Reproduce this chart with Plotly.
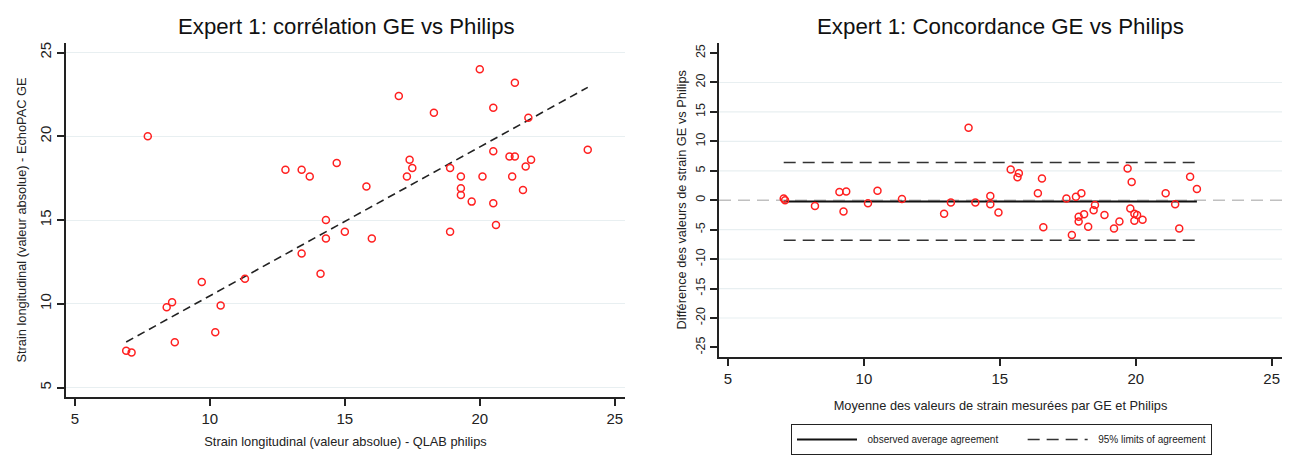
import numpy as np
import plotly.graph_objects as go

# ---- data ----
philips = [6.9, 7.1, 7.7, 8.4, 8.6, 8.7, 9.7, 10.2, 10.4, 11.3,
           12.8, 13.4, 13.4, 13.7, 14.1, 14.3, 14.3, 14.7, 15.0, 15.8,
           16.0, 17.0, 17.3, 17.4, 17.5, 18.3, 18.9, 18.9, 19.3, 19.3,
           19.3, 19.7, 20.0, 20.1, 20.5, 20.5, 20.5, 20.6, 21.1, 21.3,
           21.2, 21.3, 21.6, 21.7, 21.8, 21.9, 24.0]
ge = [7.2, 7.1, 20.0, 9.8, 10.1, 7.7, 11.3, 8.3, 9.9, 11.5,
      18.0, 18.0, 13.0, 17.6, 11.8, 15.0, 13.9, 18.4, 14.3, 17.0,
      13.9, 22.4, 17.6, 18.6, 18.1, 21.4, 18.1, 14.3, 17.6, 16.9,
      16.5, 16.1, 24.0, 17.6, 21.7, 19.1, 16.0, 14.7, 18.8, 18.8,
      17.6, 23.2, 16.8, 18.2, 21.1, 18.6, 19.2]
agreement_mean = -0.22
agreement_limits = [-6.8, 6.4]

x_ticks = [5, 10, 15, 20, 25]
y_ticks_left = [5, 10, 15, 20, 25]
y_ticks_right = [25, 20, 15, 10, 5, 0, -5, -10, -15, -20, -25]
grid_right = [20, 15, 10, 5, -5, -10, -15, -20]

W, H = 1289, 455
FONT = "Liberation Sans, Arial, sans-serif"
RED = "#ff2020"
NB = "\u00a0"

px_ = np.array(philips)
ge_ = np.array(ge)
# geometric-mean (reduced major axis) regression line
r = np.corrcoef(px_, ge_)[0, 1]
slope = np.sign(r) * ge_.std() / px_.std()
intercept = ge_.mean() - slope * px_.mean()
fit_x = np.array([px_.min(), px_.max()])
fit_y = intercept + slope * fit_x

mean_vals = (px_ + ge_) / 2
diff_vals = ge_ - px_
mx = [mean_vals.min(), mean_vals.max()]

fig = go.Figure()

# left: correlation
fig.add_trace(go.Scatter(x=fit_x, y=fit_y, mode="lines", xaxis="x", yaxis="y",
                         line=dict(color="#222222", width=1.6, dash="8px,5px"),
                         showlegend=False, hoverinfo="skip"))
fig.add_trace(go.Scatter(x=philips, y=ge, mode="markers", xaxis="x", yaxis="y",
                         marker=dict(symbol="circle-open", size=7, color=RED,
                                     line=dict(width=1.5, color=RED)),
                         showlegend=False))

# right: Bland-Altman
fig.add_trace(go.Scatter(x=[4.67, 25.38], y=[0, 0], mode="lines", xaxis="x2", yaxis="y2",
                         line=dict(color="#c0c0c0", width=1.5, dash="12px,7px"),
                         showlegend=False, hoverinfo="skip"))
fig.add_trace(go.Scatter(x=mx, y=[agreement_mean] * 2, mode="lines", xaxis="x2", yaxis="y2",
                         line=dict(color="#111111", width=2),
                         name=NB * 2 + "observed average agreement" + NB * 7))
fig.add_trace(go.Scatter(x=mx + [None] + mx,
                         y=[agreement_limits[1]] * 2 + [None] + [agreement_limits[0]] * 2,
                         mode="lines", xaxis="x2", yaxis="y2",
                         line=dict(color="#333333", width=1.6, dash="12px,7px"),
                         name=NB * 2 + "95% limits of agreement"))
fig.add_trace(go.Scatter(x=mean_vals, y=diff_vals, mode="markers", xaxis="x2", yaxis="y2",
                         marker=dict(symbol="circle-open", size=7, color=RED,
                                     line=dict(width=1.5, color=RED)),
                         showlegend=False))

shapes = []
for g in grid_right:
    shapes.append(dict(type="line", xref="x2 domain", x0=0, x1=1, yref="y2", y0=g, y1=g,
                       line=dict(color="#e8eff1", width=1.2), layer="below"))

axis_common = dict(showline=True, linecolor="#222222", linewidth=1.5, ticks="outside",
                   ticklen=7, tickcolor="#222222", tickwidth=1.5, zeroline=False,
                   tickfont=dict(family=FONT, size=15, color="#222222"))
TS = 12.8

fig.update_layout(
    width=W, height=H,
    margin=dict(l=0, r=0, t=0, b=0),
    paper_bgcolor="white", plot_bgcolor="white",
    font=dict(family=FONT, color="#222222"),
    xaxis=dict(domain=[66 / W, 625 / W], range=[4.67, 25.38], tickvals=x_ticks,
               showgrid=False, anchor="y",
               title=dict(text="Strain longitudinal (valeur absolue) - QLAB philips",
                          font=dict(size=TS), standoff=11),
               **axis_common),
    yaxis=dict(domain=[(H - 401) / H, (H - 43) / H], range=[4.41, 25.59],
               tickvals=y_ticks_left, tickangle=-90, showgrid=True,
               gridcolor="#e8eff1", gridwidth=1.2, anchor="x",
               title=dict(text="Strain longitudinal (valeur absolue) - EchoPAC GE",
                          font=dict(size=TS), standoff=8),
               **axis_common),
    xaxis2=dict(domain=[719 / W, 1282 / W], range=[4.67, 25.38], tickvals=x_ticks,
                showgrid=False, anchor="y2",
                title=dict(text="Moyenne des valeurs de strain mesurées par GE et Philips",
                           font=dict(size=TS), standoff=15),
                **axis_common),
    yaxis2=dict(domain=[(H - 360) / H, (H - 43) / H], range=[-26.6, 26.77],
                tickvals=y_ticks_right, ticktext=[str(v) for v in y_ticks_right],
                tickangle=-90, showgrid=False, anchor="x2",
                title=dict(text="Différence des valeurs de strain GE vs Philips",
                           font=dict(size=TS), standoff=5),
                **{**axis_common, "tickfont": dict(family=FONT, size=12.5, color="#222222")}),
    shapes=shapes,
    legend=dict(orientation="h", x=791 / W, y=(H - 428) / H, xanchor="left", yanchor="top",
                bordercolor="#222222", borderwidth=1, bgcolor="white",
                font=dict(family=FONT, size=10, color="#222222"),
                itemwidth=60),
    annotations=[
        dict(text="Expert 1: corrélation GE vs Philips", xref="paper", yref="paper",
             x=346 / W, y=(H - 27) / H, showarrow=False, xanchor="center", yanchor="middle",
             font=dict(family=FONT, size=22.2, color="#111111")),
        dict(text="Expert 1: Concordance GE vs Philips", xref="paper", yref="paper",
             x=1000 / W, y=(H - 27) / H, showarrow=False, xanchor="center", yanchor="middle",
             font=dict(family=FONT, size=22.3, color="#111111")),
    ],
)

fig.write_html("out.html", config={"displayModeBar": False},
               post_script="document.body.style.margin='0';")
